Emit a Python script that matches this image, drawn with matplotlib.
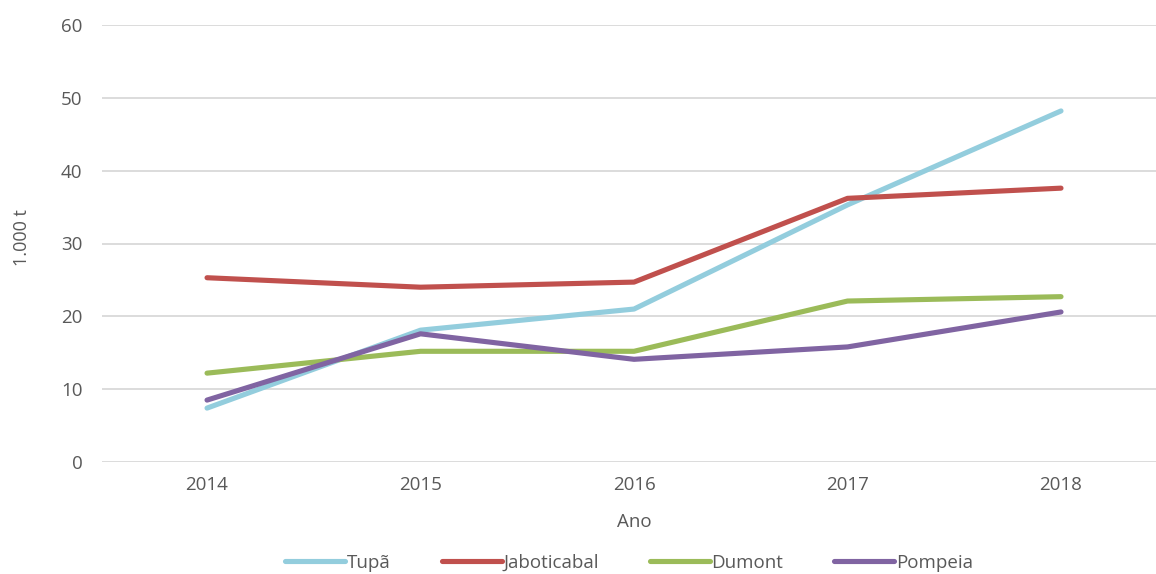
import numpy as np
import matplotlib.pyplot as plt

years = ["2014", "2015", "2016", "2017", "2018"]
tupa = [7.4, 18.1, 21.0, 35.3, 48.2]
jaboticabal = [25.3, 24.0, 24.7, 36.2, 37.6]
dumont = [12.2, 15.2, 15.2, 22.1, 22.7]
pompeia = [8.5, 17.6, 14.1, 15.8, 20.6]

series = [("Tupã", tupa, "#93CDDD"),
          ("Jaboticabal", jaboticabal, "#C0504D"),
          ("Dumont", dumont, "#9BBB59"),
          ("Pompeia", pompeia, "#8064A2")]

txt = "#595959"
fs = 13.5
plt.rcParams['font.family'] = ['Open Sans', 'DejaVu Sans']

fig = plt.figure(figsize=(11.56, 5.74), dpi=100)
# axes box in pixels: left 102, bottom (0) at y=462, top (60) at y=25
ax = fig.add_axes([102/1156, 112/574, 1 - 102/1156, (462 - 25)/574])

x = np.arange(len(years))
for name, vals, col in series:
    ax.plot(x, vals, color=col, lw=3.7, solid_capstyle='round', solid_joinstyle='round', label=name)

ax.set_xlim(-0.492, 4.445)
ax.set_ylim(0, 60)
ax.set_yticks(range(0, 61, 10))
ax.set_xticks(x)
ax.set_xticklabels(years)
ax.yaxis.grid(True, color="#D9D9D9", lw=1.3)
ax.set_axisbelow(True)
for s in ax.spines.values():
    s.set_visible(False)
ax.tick_params(axis='both', length=0, colors=txt, labelsize=fs)
ax.tick_params(axis='x', pad=10)
ax.tick_params(axis='y', pad=14)

ax.set_xlabel("Ano", color=txt, fontsize=fs, va='center')
ax.xaxis.set_label_coords((634 - 102)/1054, (462 - 522)/437)
ax.set_ylabel("1.000 t", color=txt, fontsize=13, va='center')
ax.yaxis.set_label_coords((22 - 102)/1054, (462 - 238)/437)

leg = fig.legend(loc='center', bbox_to_anchor=(629/1156, 1 - 563/574), ncol=4, frameon=False,
                 fontsize=fs, handlelength=3.2, handletextpad=0.1, columnspacing=2.7, labelcolor=txt)

fig.savefig("out.png", dpi=100)
